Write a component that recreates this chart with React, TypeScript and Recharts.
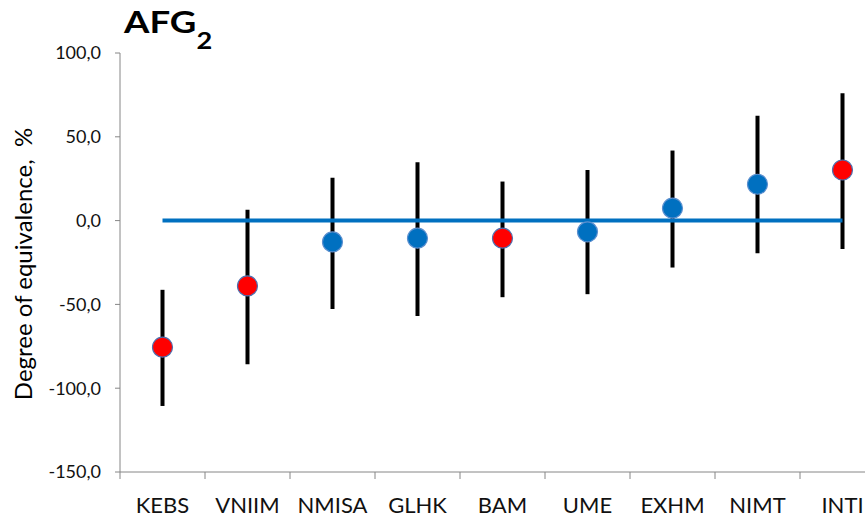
import React from 'react';
import { ComposedChart, Line, XAxis, YAxis, ErrorBar } from 'recharts';

const LABS = ['KEBS', 'VNIIM', 'NMISA', 'GLHK', 'BAM', 'UME', 'EXHM', 'NIMT', 'INTI'];
const DEG = [-75.5, -39, -12.7, -10.5, -10.5, -6.7, 7.4, 21.7, 30.2];
const UPPER = [-41.3, 6.4, 25.5, 34.8, 23.3, 30.2, 41.8, 62.5, 76];
const LOWER = [-110.6, -85.7, -52.7, -56.9, -45.7, -43.9, -28, -19.5, -16.9];
const RED = [true, true, false, false, true, false, false, false, true];
const Y_TICKS = [-150, -100, -50, 0, 50, 100];

const AXIS = '#868686';
const BLUE = '#0070C0';
const FONT = 'Lato, "DejaVu Sans", sans-serif';

const data = LABS.map((lab, i) => ({
  lab,
  deg: DEG[i],
  err: [DEG[i] - LOWER[i], UPPER[i] - DEG[i]],
  zero: 0,
  red: RED[i],
}));

const BAND = 85;

const XTick = (props: any) => {
  const { x, y, payload } = props;
  return (
    <g>
      <line x1={x - BAND / 2} x2={x - BAND / 2} y1={y} y2={y + 7} stroke={AXIS} strokeWidth={1} />
      <text x={x} y={y + 41} textAnchor="middle" fontSize={22} fontFamily={FONT} fill="#111">
        {payload.value}
      </text>
    </g>
  );
};

const Dot = (props: any) => {
  const { cx, cy, payload, index } = props;
  if (cx == null || cy == null) return null;
  return (
    <circle
      key={`d-${index}`}
      cx={cx}
      cy={cy}
      r={10}
      fill={payload.red ? '#FF0000' : BLUE}
      stroke={payload.red ? '#4F6FAF' : '#5B8FCF'}
      strokeWidth={1.2}
    />
  );
};

export default function App() {
  return (
    <div style={{ position: 'fixed', left: 0, top: 0, width: 865, height: 520, overflow: 'hidden', background: '#fff' }}>
      <ComposedChart width={900} height={520} data={data} margin={{ top: 53, right: 15, bottom: 0, left: 0 }}>
        <XAxis
          dataKey="lab"
          type="category"
          interval={0}
          padding={{ left: BAND / 2, right: BAND / 2 }}
          tickLine={false}
          tickSize={0}
          tickMargin={0}
          height={48}
          axisLine={{ stroke: AXIS, strokeWidth: 1 }}
          tick={<XTick />}
        />
        <YAxis
          type="number"
          domain={[-150, 100]}
          ticks={Y_TICKS}
          width={120}
          tickSize={5}
          tickMargin={14}
          axisLine={{ stroke: AXIS, strokeWidth: 1 }}
          tickLine={{ stroke: AXIS, strokeWidth: 1 }}
          tick={{ fontSize: 18, fontFamily: FONT, fill: '#111' }}
          tickFormatter={(v: number) => v.toFixed(1).replace('.', ',')}
        />
        <Line dataKey="deg" stroke="none" dot={false} activeDot={false} isAnimationActive={false}>
          <ErrorBar dataKey="err" width={0} strokeWidth={4} stroke="#000" direction="y" />
        </Line>
        <Line dataKey="zero" stroke={BLUE} strokeWidth={4} dot={false} activeDot={false} isAnimationActive={false} />
        <Line dataKey="deg" stroke="none" dot={<Dot />} activeDot={false} isAnimationActive={false} />
      </ComposedChart>
      <svg width={865} height={520} style={{ position: 'absolute', left: 0, top: 0, pointerEvents: 'none' }}>
        <g transform="translate(124,33) scale(1.18,1)">
          <text x={0} y={0} fontSize={31} fontWeight="bold" fontFamily={FONT} fill="#000">
            AFG
            <tspan dy={16} fontSize={23}>2</tspan>
          </text>
        </g>
        <text
          x={0}
          y={0}
          transform="translate(32,264) rotate(-90)"
          textAnchor="middle"
          fontSize={24}
          fontFamily={FONT}
          fill="#000"
          xmlSpace="preserve"
        >
          {'Degree of equivalence,  %'}
        </text>
      </svg>
    </div>
  );
}
